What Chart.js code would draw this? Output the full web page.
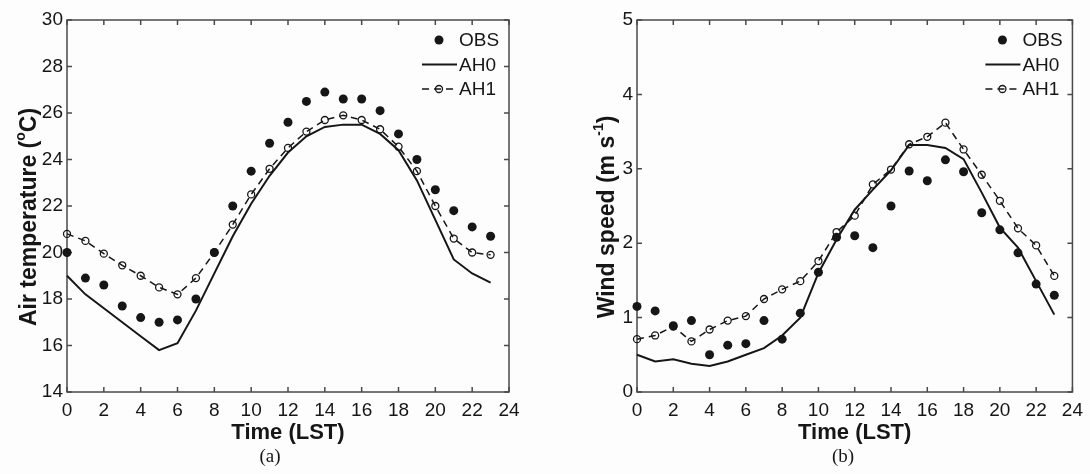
<!DOCTYPE html>
<html>
<head>
<meta charset="utf-8">
<script src="https://cdn.jsdelivr.net/npm/chart.js@4.4.1/dist/chart.umd.min.js"></script>
<style>
  html, body { margin: 0; padding: 0; background: #fdfdfd; }
  #wrap { position: relative; width: 1090px; height: 474px; }
  canvas { position: absolute; top: 0; }
  #tempChart { left: 0; }
  #windChart { left: 545px; }
</style>
</head>
<body>
<div id="wrap">
  <canvas id="tempChart" width="545" height="474"></canvas>
  <canvas id="windChart" width="545" height="474"></canvas>
</div>
<script>
// Data (hourly, LST)
const hours = [0, 1, 2, 3, 4, 5, 6, 7, 8, 9, 10, 11, 12, 13, 14, 15, 16, 17, 18, 19, 20, 21, 22, 23];

// (a) air temperature, deg C
const tempObs = [20.0, 18.9, 18.6, 17.7, 17.2, 17.0, 17.1, 18.0, 20.0, 22.0, 23.5, 24.7, 25.6, 26.5, 26.9, 26.6, 26.6, 26.1, 25.1, 24.0, 22.7, 21.8, 21.1, 20.7];
const tempAH0 = [19.0, 18.2, 17.6, 17.0, 16.4, 15.8, 16.1, 17.5, 19.1, 20.7, 22.1, 23.3, 24.3, 25.0, 25.4, 25.5, 25.5, 25.1, 24.4, 23.1, 21.4, 19.7, 19.1, 18.7];
const tempAH1 = [20.8, 20.5, 19.95, 19.45, 19.0, 18.5, 18.2, 18.9, 20.0, 21.2, 22.5, 23.6, 24.5, 25.2, 25.7, 25.9, 25.7, 25.3, 24.55, 23.5, 22.0, 20.6, 20.0, 19.9];

// (b) wind speed, m/s
const windObs = [1.15, 1.09, 0.89, 0.96, 0.50, 0.63, 0.65, 0.96, 0.71, 1.06, 1.61, 2.08, 2.10, 1.94, 2.50, 2.97, 2.84, 3.12, 2.96, 2.41, 2.18, 1.87, 1.45, 1.30];
const windAH0 = [0.50, 0.41, 0.44, 0.38, 0.35, 0.41, 0.50, 0.59, 0.76, 1.00, 1.60, 2.05, 2.45, 2.72, 2.98, 3.32, 3.32, 3.28, 3.13, 2.68, 2.21, 1.94, 1.49, 1.04];
const windAH1 = [0.71, 0.76, 0.88, 0.68, 0.84, 0.96, 1.02, 1.25, 1.38, 1.49, 1.76, 2.15, 2.37, 2.79, 2.99, 3.33, 3.43, 3.62, 3.26, 2.92, 2.57, 2.20, 1.97, 1.56];

const seriesNames = ['OBS', 'AH0', 'AH1'];
const FONT = "'Liberation Sans', Arial, sans-serif";
const INK = '#161616';

function toPoints(vals) {
    return hours.map((h, i) => ({ x: h, y: vals[i] }));
}

// draws text with superscript pieces, optionally rotated
function drawRich(ctx, parts, size, x, y, rotate) {
    ctx.save();
    ctx.translate(x, y);
    if (rotate) ctx.rotate(-Math.PI / 2);
    const mainFont = `bold ${size}px ${FONT}`;
    const supFont = `bold ${Math.round(size * 0.62)}px ${FONT}`;
    let w = 0;
    parts.forEach(p => { ctx.font = p.sup ? supFont : mainFont; w += ctx.measureText(p.t).width; });
    let cx = -w / 2;
    ctx.textAlign = 'left';
    ctx.textBaseline = 'middle';
    ctx.fillStyle = INK;
    parts.forEach(p => {
        ctx.font = p.sup ? supFont : mainFont;
        ctx.fillText(p.t, cx, p.sup ? -size * 0.4 : 0);
        cx += ctx.measureText(p.t).width;
    });
    ctx.restore();
}

// frame with inward ticks, axis titles, legend and caption
const decoPlugin = {
    id: 'deco',
    beforeDatasetsDraw(chart) {
        const { ctx, chartArea: a, scales } = chart;
        const L = 5;
        ctx.save();
        ctx.strokeStyle = '#4a4a4a';
        ctx.lineWidth = 1.5;
        ctx.strokeRect(a.left, a.top, a.right - a.left, a.bottom - a.top);
        ctx.beginPath();
        scales.x.ticks.forEach(t => {
            const px = scales.x.getPixelForValue(t.value);
            ctx.moveTo(px, a.bottom); ctx.lineTo(px, a.bottom - L);
            ctx.moveTo(px, a.top); ctx.lineTo(px, a.top + L);
        });
        scales.y.ticks.forEach(t => {
            const py = scales.y.getPixelForValue(t.value);
            ctx.moveTo(a.left, py); ctx.lineTo(a.left + L, py);
            ctx.moveTo(a.right, py); ctx.lineTo(a.right - L, py);
        });
        ctx.stroke();
        ctx.restore();
    },
    afterDraw(chart, args, opts) {
        const { ctx, chartArea: a } = chart;
        const midX = (a.left + a.right) / 2;

        drawRich(ctx, [{ t: 'Time (LST)' }], 22, midX, 433, false);
        drawRich(ctx, opts.yTitle, 23, opts.yTitleX, 217, true);

        // legend, top right inside the plot
        const textLeft = a.right - 50;
        ctx.save();
        chart.data.datasets.forEach((ds, i) => {
            const y = a.top + 20 + i * 24.5;
            const x0 = textLeft - 37, x1 = textLeft - 2, xm = textLeft - 20;
            ctx.strokeStyle = INK;
            ctx.fillStyle = INK;
            if (ds.showLine !== false) {
                ctx.lineWidth = ds.borderWidth;
                ctx.setLineDash(ds.borderDash || []);
                ctx.beginPath(); ctx.moveTo(x0, y); ctx.lineTo(x1, y); ctx.stroke();
                ctx.setLineDash([]);
            }
            if (ds.pointRadius > 0) {
                ctx.beginPath();
                ctx.arc(xm, y, ds.pointRadius, 0, Math.PI * 2);
                if (ds.showLine === false) ctx.fill();
                else { ctx.lineWidth = ds.pointBorderWidth; ctx.stroke(); }
            }
            ctx.font = `19px ${FONT}`;
            ctx.textAlign = 'left';
            ctx.textBaseline = 'middle';
            ctx.fillText(ds.label, textLeft, y + 1);
        });

        ctx.font = "19px 'Liberation Serif', 'Times New Roman', serif";
        ctx.textAlign = 'center';
        ctx.textBaseline = 'middle';
        ctx.fillText(opts.caption, opts.captionX, 457);
        ctx.restore();
    }
};

function makeDatasets(obs, ah0, ah1) {
    return [
        {
            label: seriesNames[0], data: toPoints(obs), showLine: false,
            pointRadius: 4.5, pointBackgroundColor: INK, pointBorderColor: INK, pointBorderWidth: 0,
            clip: 10
        },
        {
            label: seriesNames[1], data: toPoints(ah0), borderColor: INK, borderWidth: 2,
            pointRadius: 0, tension: 0, clip: 10
        },
        {
            label: seriesNames[2], data: toPoints(ah1), borderColor: INK, borderWidth: 1.5,
            borderDash: [7, 5], pointRadius: 3.5, pointBackgroundColor: 'rgba(255,255,255,0)',
            pointBorderColor: INK, pointBorderWidth: 1.3, tension: 0, clip: 10
        }
    ];
}

function makeChart(id, datasets, yMin, yMax, yStep, yAxisWidth, padRight, deco) {
    return new Chart(document.getElementById(id), {
        type: 'line',
        data: { datasets: datasets },
        options: {
            responsive: false,
            animation: false,
            events: [],
            layout: { padding: { top: 20, right: padRight, left: 0, bottom: 0 } },
            plugins: { legend: { display: false }, tooltip: { enabled: false }, deco: deco },
            scales: {
                x: {
                    type: 'linear', min: 0, max: 24,
                    grid: { display: false, drawTicks: false }, border: { display: false },
                    ticks: { stepSize: 2, color: INK, padding: 7, font: { family: FONT, size: 19 }, maxRotation: 0 },
                    afterFit: s => { s.height = 82; }
                },
                y: {
                    min: yMin, max: yMax,
                    grid: { display: false, drawTicks: false }, border: { display: false },
                    ticks: { stepSize: yStep, color: INK, padding: 4, font: { family: FONT, size: 19 } },
                    afterFit: s => { s.width = yAxisWidth; }
                }
            }
        },
        plugins: [decoPlugin]
    });
}

makeChart('tempChart', makeDatasets(tempObs, tempAH0, tempAH1), 14, 30, 2, 67, 36, {
    yTitle: [{ t: 'Air temperature (' }, { t: 'o', sup: true }, { t: 'C)' }],
    yTitleX: 30, caption: '(a)', captionX: 270
});

makeChart('windChart', makeDatasets(windObs, windAH0, windAH1), 0, 5, 1, 92, 12, {
    yTitle: [{ t: 'Wind speed (m s' }, { t: '-1', sup: true }, { t: ')' }],
    yTitleX: 63, caption: '(b)', captionX: 298
});
</script>
</body>
</html>
